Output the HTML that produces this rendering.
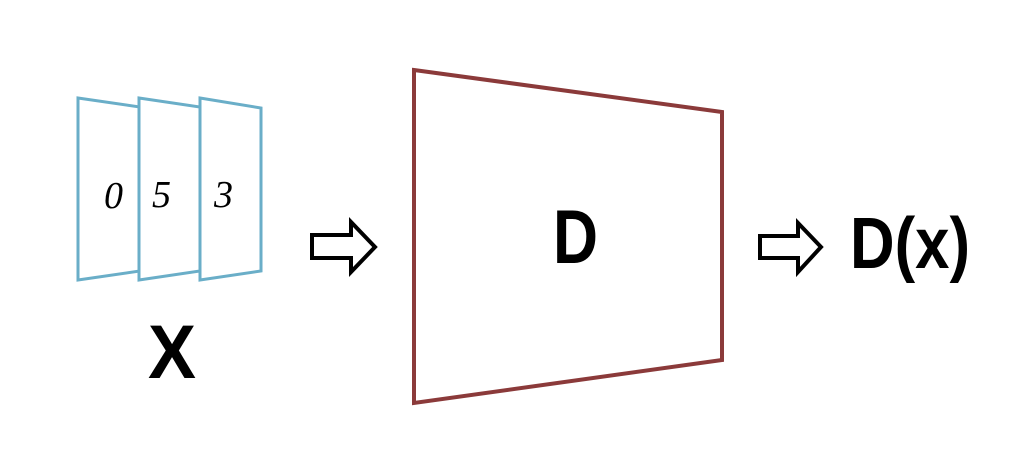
<!DOCTYPE html>
<html><head><meta charset="utf-8"><style>
html,body{margin:0;padding:0;background:#fff;}
svg{display:block;}
text{font-family:"Liberation Sans",sans-serif;font-weight:bold;fill:#000;}
</style></head><body>
<svg width="1022" height="466" viewBox="0 0 1022 466">
<g fill="#fff" stroke="#6aaec8" stroke-width="3">
<polygon points="78,98 140,107 140,271 78,280"/>
<polygon points="139,98 200,107 200,271 139,280"/>
<polygon points="200,98 261,108 261,271 200,280"/>
</g>
<text x="104" y="208" font-size="38" font-style="italic" style="font-weight:normal;font-family:'Liberation Serif',serif">0</text>
<text x="152" y="207" font-size="38" font-style="italic" style="font-weight:normal;font-family:'Liberation Serif',serif">5</text>
<text x="214" y="207" font-size="38" font-style="italic" style="font-weight:normal;font-family:'Liberation Serif',serif">3</text>
<text x="148" y="378" font-size="76" textLength="48" lengthAdjust="spacingAndGlyphs">X</text>
<polygon points="312,235 351,235 351,222 375,247 351,272 351,258 312,258" fill="#fff" stroke="#000" stroke-width="4"/>
<polygon points="414,70 722,112 722,360 414,403" fill="#fff" stroke="#8b3a3a" stroke-width="4"/>
<text x="553" y="263" font-size="76" textLength="45" lengthAdjust="spacingAndGlyphs">D</text>
<polygon points="760,236 798,236 798,223 821,247 798,272 798,258 760,258" fill="#fff" stroke="#000" stroke-width="4"/>
<text x="850" y="268" font-size="72" textLength="120" lengthAdjust="spacingAndGlyphs">D(x)</text>
</svg>
</body></html>
